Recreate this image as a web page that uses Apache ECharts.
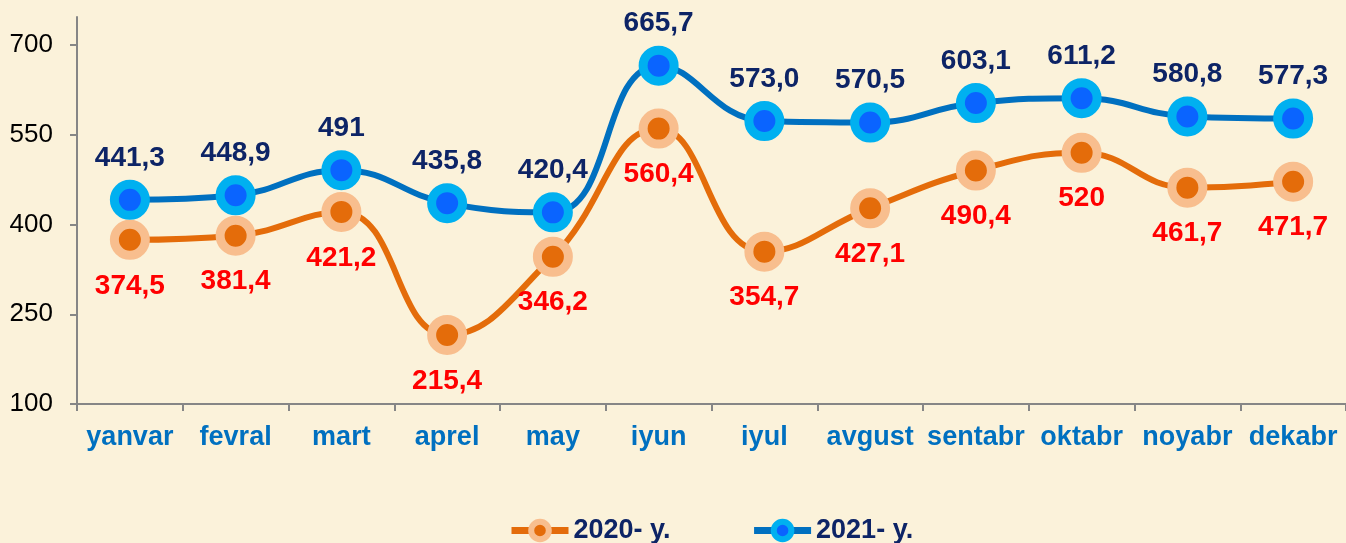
<!DOCTYPE html>
<html>
<head>
<meta charset="utf-8">
<script src="https://cdn.jsdelivr.net/npm/echarts@6/dist/echarts.min.js"></script>
<style>
html,body{margin:0;padding:0;background:#FBF2DA;}
#c{width:1346px;height:543px;}
</style>
</head>
<body>
<div id="c"></div>
<script>
const categories = ['yanvar','fevral','mart','aprel','may','iyun','iyul','avgust','sentabr','oktabr','noyabr','dekabr'];
const values2020 = [374.5, 381.4, 421.2, 215.4, 346.2, 560.4, 354.7, 427.1, 490.4, 520, 461.7, 471.7];
const values2021 = [441.3, 448.9, 491, 435.8, 420.4, 665.7, 573.0, 570.5, 603.1, 611.2, 580.8, 577.3];
const labels2020 = ['374,5','381,4','421,2','215,4','346,2','560,4','354,7','427,1','490,4','520','461,7','471,7'];
const labels2021 = ['441,3','448,9','491','435,8','420,4','665,7','573,0','570,5','603,1','611,2','580,8','577,3'];
const yTicks = [100, 250, 400, 550, 700];
const seriesNames = ['2020- y.', '2021- y.'];

const FONT = '"Liberation Sans", Arial, sans-serif';
const chart = echarts.init(document.getElementById('c'), null, {renderer: 'canvas'});

const option = {
  backgroundColor: '#FBF2DA',
  animation: false,
  grid: {left: 77, right: -3, top: 17, bottom: 139, containLabel: false},
  legend: {
    left: 503, top: 512,
    itemWidth: 57, itemHeight: 22, itemGap: 80,
    lineStyle: {width: 7},
    textStyle: {fontFamily: FONT, fontSize: 27, fontWeight: 'bold', color: '#0D2466'},
    data: [
      {name: seriesNames[0], itemStyle: {borderWidth: 6}, lineStyle: {width: 7, color: '#E46C0A'}},
      {name: seriesNames[1], itemStyle: {borderWidth: 6}, lineStyle: {width: 7, color: '#0070C0'}}
    ]
  },
  xAxis: {
    type: 'category',
    data: categories,
    boundaryGap: true,
    axisLine: {lineStyle: {color: '#868686', width: 2}},
    axisTick: {show: true, interval: 0, length: 7, lineStyle: {color: '#868686', width: 2}},
    axisLabel: {interval: 0, margin: 20, fontFamily: FONT, fontSize: 27, fontWeight: 'bold', color: '#0070C0'}
  },
  yAxis: {
    type: 'value',
    min: 100, max: 747,
    splitLine: {show: false},
    axisLine: {show: true, lineStyle: {color: '#868686', width: 2}},
    axisTick: {show: true, length: 7, customValues: yTicks, lineStyle: {color: '#868686', width: 2}},
    axisLabel: {margin: 24, customValues: yTicks, fontFamily: FONT, fontSize: 26, color: '#000'}
  },
  series: [
    {
      name: seriesNames[0], type: 'line', smooth: 0.45,
      data: values2020,
      symbol: 'circle', symbolSize: 31,
      lineStyle: {color: '#E46C0A', width: 6},
      itemStyle: {color: '#E46C0A', borderColor: '#F8BE8E', borderWidth: 9},
      label: {
        show: true, position: 'bottom', distance: 12,
        formatter: p => labels2020[p.dataIndex],
        fontFamily: FONT, fontSize: 28, fontWeight: 'bold', color: '#FF0000'
      },
      z: 2
    },
    {
      name: seriesNames[1], type: 'line', smooth: 0.45,
      data: values2021,
      symbol: 'circle', symbolSize: 31,
      lineStyle: {color: '#0070C0', width: 6},
      itemStyle: {color: '#0A64FF', borderColor: '#00B0F0', borderWidth: 9},
      label: {
        show: true, position: 'top', distance: 8,
        formatter: p => labels2021[p.dataIndex],
        fontFamily: FONT, fontSize: 28, fontWeight: 'bold', color: '#0D2466'
      },
      z: 3
    }
  ]
};
chart.setOption(option);
</script>
</body>
</html>
